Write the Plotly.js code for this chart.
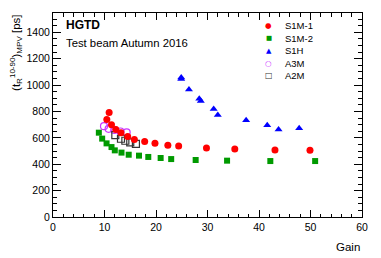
<!DOCTYPE html>
<html>
<head>
<meta charset="utf-8">
<script src="https://cdn.plot.ly/plotly-3.0.1.min.js"></script>
<style>html,body{margin:0;padding:0;background:#fff;}#chart{width:381px;height:258px;}</style>
</head>
<body>
<div id="chart"></div>
<script>
// ---- data ----
const s1m1Gain = [10.45, 10.9, 11.36, 12.2, 13.2, 14.5, 15.8, 17.8, 19.8, 22.3, 24.4, 29.8, 35.3, 43.1, 49.9];
const s1m1Rise = [738, 791, 700, 663, 638, 611, 588, 573, 558, 543, 538, 523, 515, 508, 505];
const s1m2Gain = [8.9, 9.55, 10.4, 11.36, 12.0, 13.3, 14.7, 16.7, 18.5, 20.9, 22.95, 27.7, 33.8, 42.2, 50.9];
const s1m2Rise = [639, 594, 558, 530, 505, 488, 472, 465, 455, 447, 439, 432, 427, 424, 424];
const s1hGain = [24.9, 24.9, 26.4, 28.4, 28.7, 31.2, 32.0, 37.5, 41.6, 43.8, 47.8];
const s1hRise = [1058, 1045, 967, 897, 879, 818, 773, 733, 695, 664, 672];
const a3mGain = [9.9, 10.8, 11.9, 13.1, 14.3];
const a3mRise = [688, 668, 660, 648, 642];
const a2mGain = [12.1, 13.2, 14.05, 15.0, 16.1];
const a2mRise = [621, 593, 578, 565, 554];
const seriesNames = ['S1M-1', 'S1M-2', 'S1H', 'A3M', 'A2M'];

const FONT = 'Liberation Sans, Arial, Helvetica, sans-serif';
const cRed = '#ff0000', cGreen = '#009a00', cBlue = '#0000ff', cViolet = '#cc33ff', cBlack = '#333333';

const traces = [
  {x: a3mGain, y: a3mRise, name: seriesNames[3], type: 'scatter', mode: 'markers',
   marker: {symbol: 'circle-open', size: 7, color: cViolet, line: {width: 1.2, color: cViolet}}},
  {x: a2mGain, y: a2mRise, name: seriesNames[4], type: 'scatter', mode: 'markers',
   marker: {symbol: 'square-open', size: 7, color: cBlack, line: {width: 1.2, color: cBlack}}},
  {x: s1hGain, y: s1hRise, name: seriesNames[2], type: 'scatter', mode: 'markers',
   marker: {symbol: 'triangle-up', size: 7, color: cBlue}},
  {x: s1m2Gain, y: s1m2Rise, name: seriesNames[1], type: 'scatter', mode: 'markers',
   marker: {symbol: 'square', size: 6, color: cGreen}},
  {x: s1m1Gain, y: s1m1Rise, name: seriesNames[0], type: 'scatter', mode: 'markers',
   marker: {symbol: 'circle', size: 7, color: cRed}}
];

// custom compact legend (ROOT style)
const legGlyphs = ['●', '■', '▲', '○', '□'];
const legColors = [cRed, cGreen, cBlue, cViolet, cBlack];
const legGlyphSize = [7.5, 6.5, 7, 7.5, 8];
const annotations = [];
const legTop = 0.937, legStep = 0.0608;
for (let i = 0; i < seriesNames.length; i++) {
  const yy = legTop - i * legStep;
  annotations.push({xref: 'paper', yref: 'paper', x: 0.6979, y: yy, xanchor: 'center', yanchor: 'middle',
    text: legGlyphs[i], showarrow: false, font: {family: 'DejaVu Sans', size: legGlyphSize[i], color: legColors[i]}});
  annotations.push({xref: 'paper', yref: 'paper', x: 0.7445, y: yy, xanchor: 'left', yanchor: 'middle',
    text: seriesNames[i], showarrow: false, font: {family: FONT, size: 9.5, color: '#000'}});
}
annotations.push({xref: 'paper', yref: 'paper', x: 0.036, y: 0.94, xanchor: 'left', yanchor: 'middle',
  text: '<b>HGTD</b>', showarrow: false, font: {family: FONT, size: 12, color: '#000'}});
annotations.push({xref: 'paper', yref: 'paper', x: 0.036, y: 0.855, xanchor: 'left', yanchor: 'middle',
  text: 'Test beam Autumn 2016', showarrow: false, font: {family: FONT, size: 11.3, color: '#000'}});
annotations.push({xref: 'paper', yref: 'paper', x: 1.0, y: -0.145, xanchor: 'right', yanchor: 'middle',
  text: 'Gain', showarrow: false, font: {family: FONT, size: 11.5, color: '#000'}});
annotations.push({xref: 'paper', yref: 'paper', x: -0.12, y: 1.0, xanchor: 'center', yanchor: 'top',
  textangle: -90, text: '(t<sub>R</sub><sup>10-90</sup>)<sub>MPV</sub> [ps]', showarrow: false,
  font: {family: FONT, size: 11.5, color: '#000'}});

const layout = {
  width: 381, height: 258,
  margin: {l: 52.5, r: 19.3, t: 12.7, b: 41.3, pad: 0},
  paper_bgcolor: '#fff', plot_bgcolor: '#fff',
  showlegend: false,
  font: {family: FONT, size: 10.5, color: '#000'},
  xaxis: {range: [0, 60], dtick: 10, tick0: 0, showgrid: false, zeroline: false,
    showline: true, linecolor: '#000', linewidth: 1, mirror: 'ticks',
    ticks: 'inside', ticklen: 7, tickcolor: '#000', tickwidth: 1,
    minor: {dtick: 2, ticks: 'inside', ticklen: 3.5, tickcolor: '#000', showgrid: false},
    tickfont: {family: FONT, size: 10.5, color: '#000'}},
  yaxis: {range: [0, 1546], dtick: 200, tick0: 0, showgrid: false, zeroline: false,
    showline: true, linecolor: '#000', linewidth: 1, mirror: 'ticks',
    ticks: 'inside', ticklen: 8, tickcolor: '#000', tickwidth: 1,
    minor: {dtick: 50, ticks: 'inside', ticklen: 4, tickcolor: '#000', showgrid: false},
    tickfont: {family: FONT, size: 10.5, color: '#000'}},
  annotations: annotations
};

Plotly.newPlot('chart', traces, layout, {displayModeBar: false, staticPlot: true});
</script>
</body>
</html>
